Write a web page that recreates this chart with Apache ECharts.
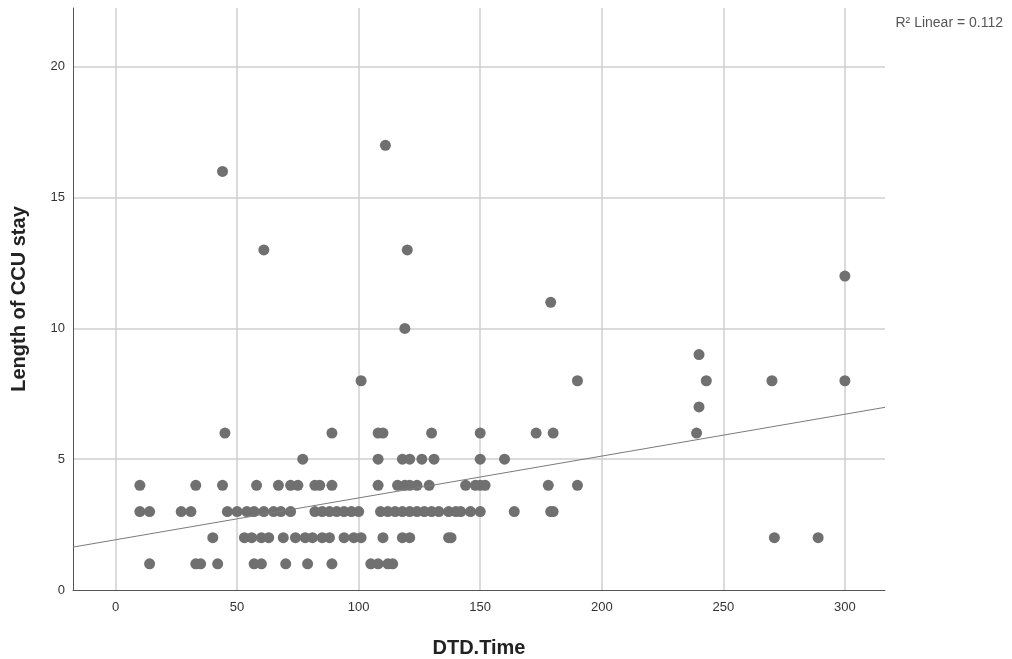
<!DOCTYPE html>
<html>
<head>
<meta charset="utf-8">
<script src="https://cdn.jsdelivr.net/npm/echarts@6/dist/echarts.min.js"></script>
<style>
  html, body { margin: 0; padding: 0; background: #fff; }
  #main { width: 1012px; height: 659px; }
</style>
</head>
<body>
<div id="main"></div>
<script>
// DTD.Time values, grouped by length of CCU stay
var stay1 = [14, 33, 35, 42, 57, 60, 70, 79, 89, 105, 108, 112, 114];
var stay2 = [40, 53, 56, 60, 63, 69, 74, 78, 81, 85, 88, 94, 98, 101, 110, 118, 121, 137, 138, 271, 289];
var stay3 = [10, 14, 27, 31, 46, 50, 54, 57, 61, 65, 68, 72, 82, 85, 88, 91, 94, 97, 100,
             109, 112, 115, 118, 121, 124, 127, 130, 133, 137, 140, 142, 146, 150, 164, 179, 180];
var stay4 = [10, 33, 44, 58, 67, 72, 75, 82, 84, 89, 108, 116, 119, 121, 124, 129, 144, 148, 150, 152, 178, 190];
var stay5 = [77, 108, 118, 121, 126, 131, 150, 160];
var stay6 = [45, 89, 108, 110, 130, 150, 173, 180, 239];
var stay7 = [240];
var stay8 = [101, 190, 243, 270, 300];
var stay9 = [240];
var stay10 = [119];
var stay11 = [179];
var stay12 = [300];
var stay13 = [61, 120];
var stay16 = [44];
var stay17 = [111];

var xTicks = [0, 50, 100, 150, 200, 250, 300];
var r2Label = 'R\u00b2 Linear = 0.112';

// linear fit as shown in the picture (y = a + b * x)
var fitIntercept = 1.92;
var fitSlope = 0.0160;

var groups = [
    [1, stay1], [2, stay2], [3, stay3], [4, stay4], [5, stay5], [6, stay6],
    [7, stay7], [8, stay8], [9, stay9], [10, stay10], [11, stay11], [12, stay12],
    [13, stay13], [16, stay16], [17, stay17]
];

var points = [];
groups.forEach(function (g) {
    g[1].forEach(function (d) { points.push([d, g[0]]); });
});

var xMin = -17.5, xMax = 316.5;
var fitLine = [
    [xMin, fitIntercept + fitSlope * xMin],
    [xMax, fitIntercept + fitSlope * xMax]
];

var chart = echarts.init(document.getElementById('main'));
var font = 'Liberation Sans, Arial, sans-serif';

var option = {
    animation: false,
    title: {
        text: r2Label,
        right: 4,
        top: 11,
        textStyle: { fontSize: 14, fontWeight: 'normal', color: '#555', fontFamily: font }
    },
    grid: { left: 73, right: 127, top: 8, bottom: 69, outerBoundsMode: 'none', containLabel: false },
    xAxis: {
        type: 'value',
        min: xMin,
        max: xMax,
        name: 'DTD.Time',
        nameLocation: 'middle',
        nameGap: 48,
        nameTextStyle: { fontSize: 20, fontWeight: 'bold', color: '#222', fontFamily: font },
        axisLine: { onZero: false, lineStyle: { color: '#555', width: 1 } },
        axisTick: { show: false },
        axisLabel: {
            color: '#333', fontSize: 13, fontFamily: font, margin: 11,
            customValues: xTicks
        },
        splitLine: {
            show: true, showMinLine: false, showMaxLine: false,
            lineStyle: { color: '#cfcfcf', width: 1.5 }
        }
    },
    yAxis: {
        type: 'value',
        min: 0,
        max: 22.25,
        interval: 5,
        name: 'Length of CCU stay',
        nameLocation: 'middle',
        nameGap: 44,
        nameTextStyle: { fontSize: 20, fontWeight: 'bold', color: '#222', fontFamily: font },
        axisLine: { show: true, onZero: false, lineStyle: { color: '#555', width: 1 } },
        axisTick: { show: false },
        axisLabel: { color: '#333', fontSize: 13, fontFamily: font, margin: 8, showMaxLabel: false },
        splitLine: {
            show: true, showMinLine: false, showMaxLine: false,
            lineStyle: { color: '#cfcfcf', width: 1.5 }
        }
    },
    series: [
        {
            type: 'line',
            data: fitLine,
            symbol: 'none',
            lineStyle: { color: '#7a7a7a', width: 1 },
            z: 3
        },
        {
            type: 'scatter',
            data: points,
            symbolSize: 11,
            itemStyle: { color: '#707070', opacity: 1 },
            z: 2
        }
    ]
};

chart.setOption(option);
</script>
</body>
</html>
